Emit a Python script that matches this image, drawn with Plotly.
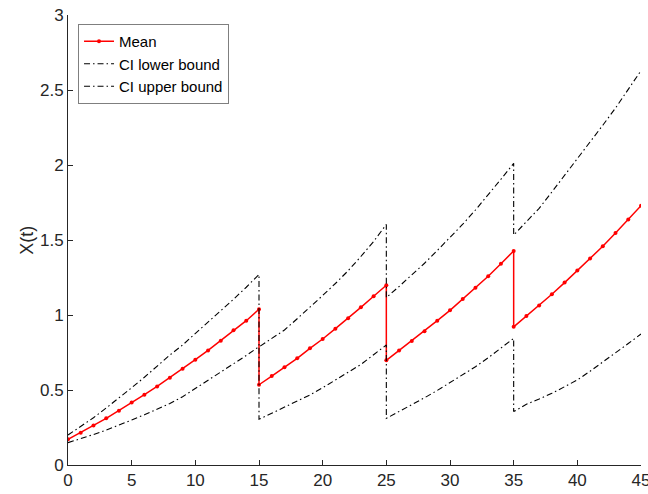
import plotly.graph_objects as go

# time points (duplicates at the jump times 15, 25, 35)
t_seg1 = list(range(0, 16))
t_seg2 = list(range(15, 26))
t_seg3 = list(range(25, 36))
t_seg4 = list(range(35, 46))
t = t_seg1 + t_seg2 + t_seg3 + t_seg4

mean_vals = [
    0.171, 0.215, 0.264, 0.311, 0.362, 0.416, 0.469, 0.524, 0.582, 0.642, 0.702, 0.764, 0.829, 0.898, 0.962, 1.038,
    0.535, 0.593, 0.651, 0.711, 0.778, 0.840, 0.909, 0.978, 1.051, 1.125, 1.198,
    0.698, 0.764, 0.827, 0.891, 0.962, 1.031, 1.107, 1.182, 1.258, 1.342, 1.427,
    0.921, 0.993, 1.064, 1.138, 1.216, 1.296, 1.376, 1.458, 1.547, 1.636, 1.729,
]
lower_vals = [
    0.149, 0.175, 0.203, 0.233, 0.265, 0.300, 0.335, 0.370, 0.410, 0.455, 0.510, 0.560, 0.615, 0.670, 0.730, 0.789,
    0.305, 0.345, 0.385, 0.425, 0.467, 0.515, 0.565, 0.615, 0.670, 0.735, 0.800,
    0.311, 0.355, 0.400, 0.448, 0.497, 0.548, 0.600, 0.655, 0.715, 0.778, 0.844,
    0.356, 0.405, 0.440, 0.478, 0.522, 0.567, 0.625, 0.685, 0.745, 0.810, 0.873,
]
upper_vals = [
    0.200, 0.255, 0.315, 0.380, 0.445, 0.515, 0.585, 0.660, 0.733, 0.800, 0.875, 0.950, 1.025, 1.105, 1.185, 1.271,
    0.787, 0.843, 0.900, 0.975, 1.050, 1.130, 1.210, 1.295, 1.390, 1.490, 1.604,
    1.116, 1.190, 1.265, 1.345, 1.430, 1.515, 1.605, 1.700, 1.800, 1.905, 2.011,
    1.533, 1.622, 1.711, 1.820, 1.930, 2.040, 2.150, 2.265, 2.380, 2.505, 2.629,
]

x_ticks = [0, 5, 10, 15, 20, 25, 30, 35, 40, 45]
y_ticks = [0, 0.5, 1, 1.5, 2, 2.5, 3]
y_tick_labels = ["0", "0.5", "1", "1.5", "2", "2.5", "3"]

axis_color = "#262626"
font_family = "Liberation Sans, Arial, sans-serif"
dashdot = "6px,3px,1.5px,3px"

fig = go.Figure()
fig.add_trace(go.Scatter(
    x=t, y=mean_vals, mode="lines+markers", name="Mean",
    line=dict(color="#ff0000", width=1.5),
    marker=dict(color="#ff0000", size=4, symbol="circle"),
))
fig.add_trace(go.Scatter(
    x=t, y=lower_vals, mode="lines", name="CI lower bound",
    line=dict(color="#000000", width=1.1, dash=dashdot),
))
fig.add_trace(go.Scatter(
    x=t, y=upper_vals, mode="lines", name="CI upper bound",
    line=dict(color="#000000", width=1.1, dash=dashdot),
))

fig.update_layout(
    width=648, height=494,
    margin=dict(l=68, r=7, t=15, b=29, autoexpand=False),
    paper_bgcolor="white", plot_bgcolor="white",
    font=dict(family=font_family, size=17, color=axis_color),
    showlegend=True,
    legend=dict(
        x=0.0175, y=0.98, xanchor="left", yanchor="top",
        bgcolor="white", bordercolor="#7f7f7f", borderwidth=1,
        font=dict(family=font_family, size=15, color="#000000"),
        tracegroupgap=0, itemwidth=30,
    ),
    xaxis=dict(
        range=[0, 45], tickmode="array", tickvals=x_ticks,
        ticks="inside", ticklen=5, tickwidth=1, tickcolor=axis_color,
        showline=True, linecolor=axis_color, linewidth=1, mirror=False,
        showgrid=False, zeroline=False, ticklabeloverflow="allow",
        automargin=False,
        tickfont=dict(size=17, color=axis_color),
    ),
    yaxis=dict(
        range=[0, 3], tickmode="array", tickvals=y_ticks, ticktext=y_tick_labels,
        ticks="inside", ticklen=5, tickwidth=1, tickcolor=axis_color,
        showline=True, linecolor=axis_color, linewidth=1, mirror=False,
        showgrid=False, zeroline=False, ticklabeloverflow="allow",
        automargin=False,
        tickfont=dict(size=17, color=axis_color),
    ),
    annotations=[dict(
        text="X(t)", xref="paper", yref="paper", x=-0.072, y=0.5,
        xanchor="center", yanchor="middle", textangle=-90, showarrow=False,
        font=dict(family=font_family, size=18, color=axis_color),
    )],
)

fig.write_html("out.html")
